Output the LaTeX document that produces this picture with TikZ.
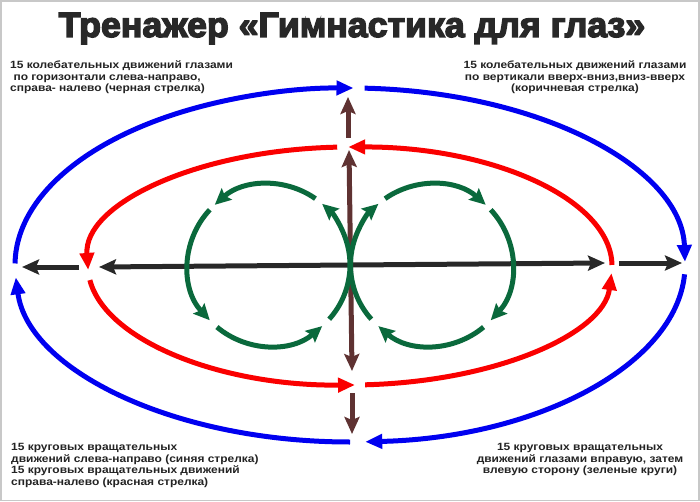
\documentclass[tikz,border=0pt]{standalone}
\usepackage{fontspec}
\setmainfont{Liberation Sans}
\newfontfamily\titlefont{Liberation Sans}[FakeBold=4]
\usetikzlibrary{arrows.meta,calc}
\definecolor{cblue}{RGB}{0,0,240}
\definecolor{cred}{RGB}{250,0,0}
\definecolor{cgreen}{RGB}{10,105,60}
\definecolor{cblack}{RGB}{40,40,40}
\definecolor{cbrown}{RGB}{95,50,50}
\definecolor{ctext}{RGB}{35,35,35}
\definecolor{cframe}{RGB}{200,200,200}
\newcommand\wtxt[2]{\scalebox{1.14}[1]{\begin{tabular}{@{}#1@{}}#2\end{tabular}}}
\tikzset{
  bigtip/.tip={Triangle[length=17pt,width=14pt]},
  stltip/.tip={Stealth[length=17pt,width=15pt,inset=3pt]},
  grtip/.tip={Stealth[length=16pt,width=15pt,inset=2.5pt]},
  blueline/.style={line width=5pt,draw=cblue,-bigtip},
  redline/.style={line width=5pt,draw=cred,-bigtip},
  greenline/.style={line width=5pt,draw=cgreen,-grtip},
  blackline/.style={line width=5pt,draw=cblack},
  brownline/.style={line width=5pt,draw=cbrown},
  txt/.style={inner sep=0pt,text=ctext,font=\fontsize{10.5}{11.7}\selectfont\bfseries},
}
\begin{document}
\begin{tikzpicture}[x=1pt,y=-1pt]
\useasboundingbox (0,0) rectangle (700,502);
\fill[white] (0,0) rectangle (700,502);
\draw[cframe,line width=1.5pt] (1,1) rectangle (699,500.5);

% centres
\coordinate (B) at (350,265);
\coordinate (R) at (350,266);
\coordinate (GL) at (269,265);
\coordinate (GR) at (431.5,265);

% blue ellipse (clockwise)
\foreach \s/\e in {-87.5/-1, 3/87.4, 90/176, 180.5/270.6}
  \draw[blueline] ($(B)+(\s:335 and 177)$) arc[start angle=\s,end angle=\e,x radius=335,y radius=177];

% red ellipse (counter-clockwise)
\foreach \s/\e in {-0.5/-90.4, -92.8/-181.9, -186.8/-271.1, -273.3/-356.6}
  \draw[redline] ($(R)+(\s:262 and 119)$) arc[start angle=\s,end angle=\e,x radius=262,y radius=119];

% black horizontal arrows
\coordinate (hA) at (99,267);
\coordinate (hB) at (605,263);
\coordinate (hL1) at (79,267);
\coordinate (hL2) at (22,267);
\coordinate (hR1) at (619,263);
\coordinate (hR2) at (682,263);
\draw[blackline,stltip-stltip] (hA) -- (hB);
\draw[blackline,-stltip] (hL1) -- (hL2);
\draw[blackline,-stltip] (hR1) -- (hR2);

% brown vertical arrows
\coordinate (vA) at (349,150);
\coordinate (vB) at (352,371);
\coordinate (vT1) at (348,138);
\coordinate (vT2) at (348,97);
\coordinate (vD1) at (352,393);
\coordinate (vD2) at (352,434);
\draw[brownline,stltip-stltip] (vA) -- (vB);
\draw[brownline,-stltip] (vT1) -- (vT2);
\draw[brownline,-stltip] (vD1) -- (vD2);

% green circles
\foreach \s/\e in {-55/-132, -137/-223, -230/-311, -318/-409}
  \draw[greenline] ($(GL)+(\s:81)$) arc[start angle=\s,end angle=\e,radius=81];
\foreach \s/\e in {-125/-48, -43/43, 50/131, 138/229}
  \draw[greenline] ($(GR)+(\s:81)$) arc[start angle=\s,end angle=\e,radius=81];

% title
\node[anchor=base,inner sep=0pt,text=cblack,font=\titlefont\bfseries\fontsize{35}{40}\selectfont] (title) at (352,37)
  {\scalebox{1.02}[1]{Тренажер «Гимнастика для глаз»}};

% texts
\node[txt,anchor=north west] (tl) at (10,60)
  {\wtxt{l}{15 колебательных движений глазами\\\ по горизонтали слева-направо,\\справа- налево (черная стрелка)}};
\node[txt,anchor=north] (tr) at (575,60)
  {\wtxt{c}{15 колебательных движений глазами\\по вертикали вверх-вниз,вниз-вверх\\(коричневая стрелка)}};
\node[txt,anchor=north west] (bl) at (11,442)
  {\wtxt{l}{15 круговых вращательных\\движений слева-направо (синяя стрелка)\\15 круговых вращательных движений\\справа-налево (красная стрелка)}};
\node[txt,anchor=north] (br) at (580,442)
  {\wtxt{c}{15 круговых вращательных\\движений глазами вправую, затем\\влевую сторону (зеленые круги)}};
\end{tikzpicture}
\end{document}
